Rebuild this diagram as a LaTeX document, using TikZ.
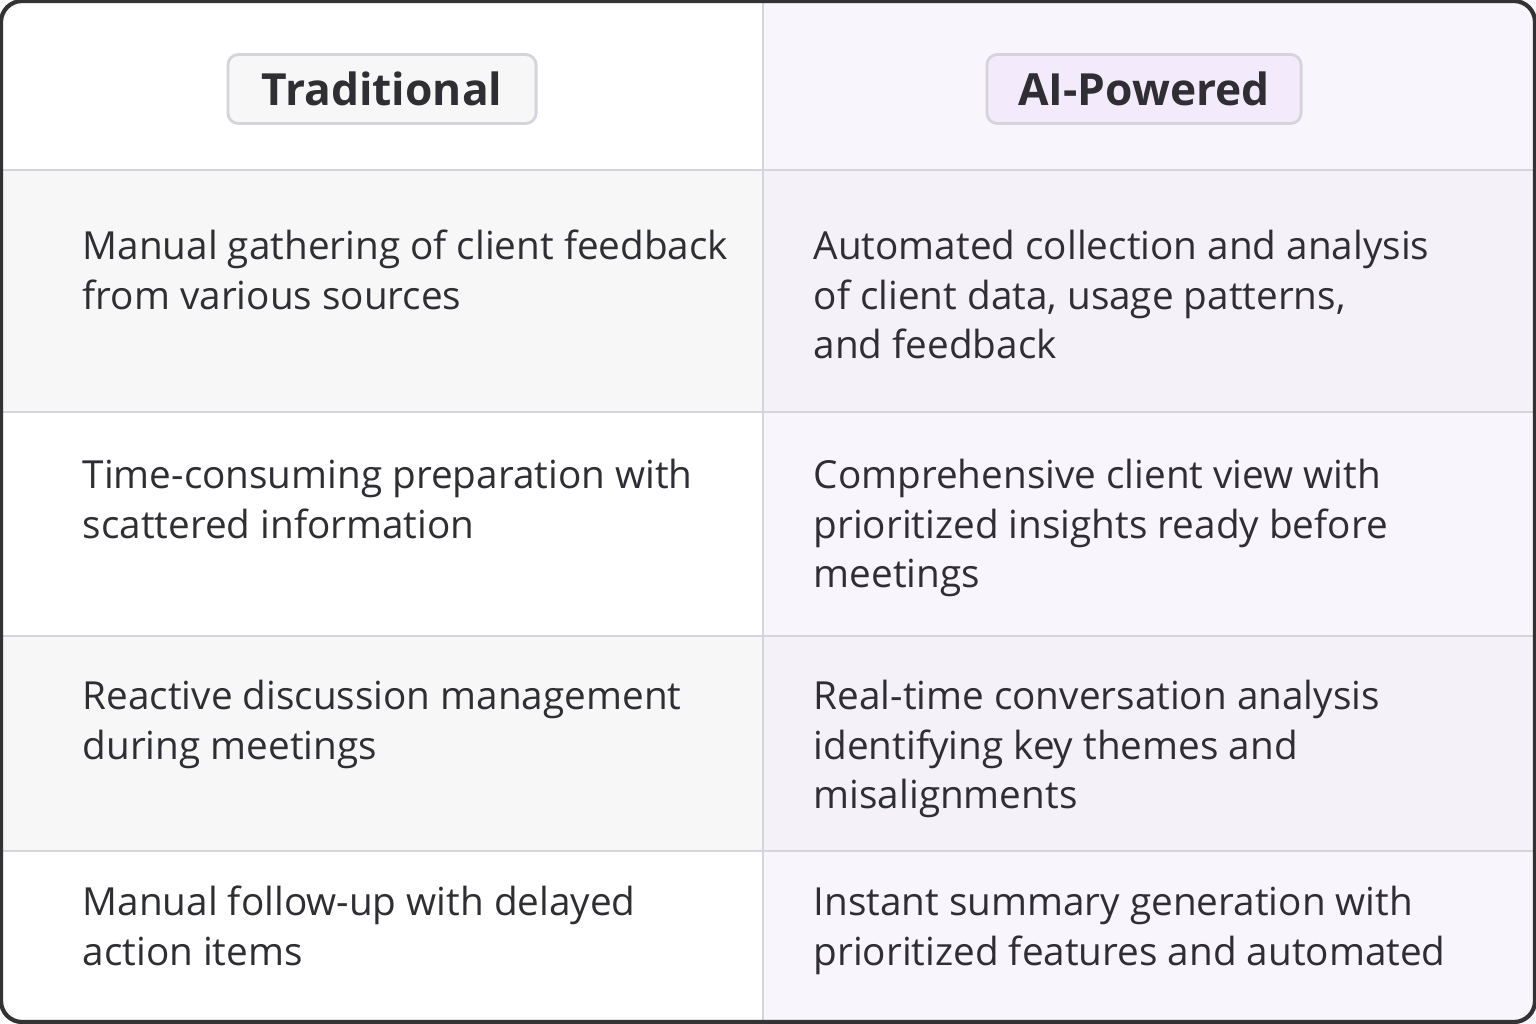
\documentclass[tikz,border=0pt]{standalone}
\usepackage{fontspec}
\setmainfont{Open Sans}
\definecolor{txt}{HTML}{2E2E33}
\definecolor{grid}{HTML}{D4D4DA}
\definecolor{rowg}{HTML}{F7F7F8}
\definecolor{lav}{HTML}{F8F5FC}
\definecolor{lavg}{HTML}{F4F1F8}
\definecolor{hlav}{HTML}{F3EBFC}
\tikzset{cell/.style={anchor=north west,inner sep=0pt,align=left,text=txt,font=\fontsize{11}{14.2}\selectfont},
hdr/.style={draw=grid,rounded corners=3pt,line width=0.8pt,font=\bfseries\fontsize{12.6}{16}\selectfont,text=txt,minimum height=0.69cm}}
\begin{document}
\begin{tikzpicture}[x=0.01cm,y=-0.01cm]
\useasboundingbox (0,0) rectangle (1536,1024);
\fill[white] (0,0) rectangle (763,1024);
\fill[lav] (763,0) rectangle (1536,1024);
\fill[rowg] (0,170) rectangle (763,412);
\fill[lavg] (763,170) rectangle (1536,412);
\fill[rowg] (0,636) rectangle (763,851);
\fill[lavg] (763,636) rectangle (1536,851);
\draw[grid,line width=0.8pt] (763,0) -- (763,1024);
\foreach \y in {170,412,636,851} \draw[grid,line width=0.8pt] (0,\y) -- (1536,\y);
\node[hdr,fill=rowg,minimum width=3.08cm] (h1) at (382,89) {Traditional};
\node[hdr,fill=hlav,minimum width=3.14cm] (h2) at (1144,89) {AI-Powered};
\node[cell] (a1) at (82,229) {Manual gathering of client feedback\\from various sources};
\node[cell] (b1) at (813,229) {Automated collection and analysis\\of client data, usage patterns,\\and feedback};
\node[cell] (a2) at (82,458) {Time-consuming preparation with\\scattered information};
\node[cell] (b2) at (813,458) {Comprehensive client view with\\prioritized insights ready before\\meetings};
\node[cell] (a3) at (82,679) {Reactive discussion management\\during meetings};
\node[cell] (b3) at (813,679) {Real-time conversation analysis\\identifying key themes and\\misalignments};
\node[cell] (a4) at (82,885) {Manual follow-up with delayed\\action items};
\node[cell] (b4) at (813,885) {Instant summary generation with\\prioritized features and automated};
\draw[black!80,line width=1.2pt,rounded corners=6pt] (1,1) rectangle (1535,1022);
\end{tikzpicture}
\end{document}
